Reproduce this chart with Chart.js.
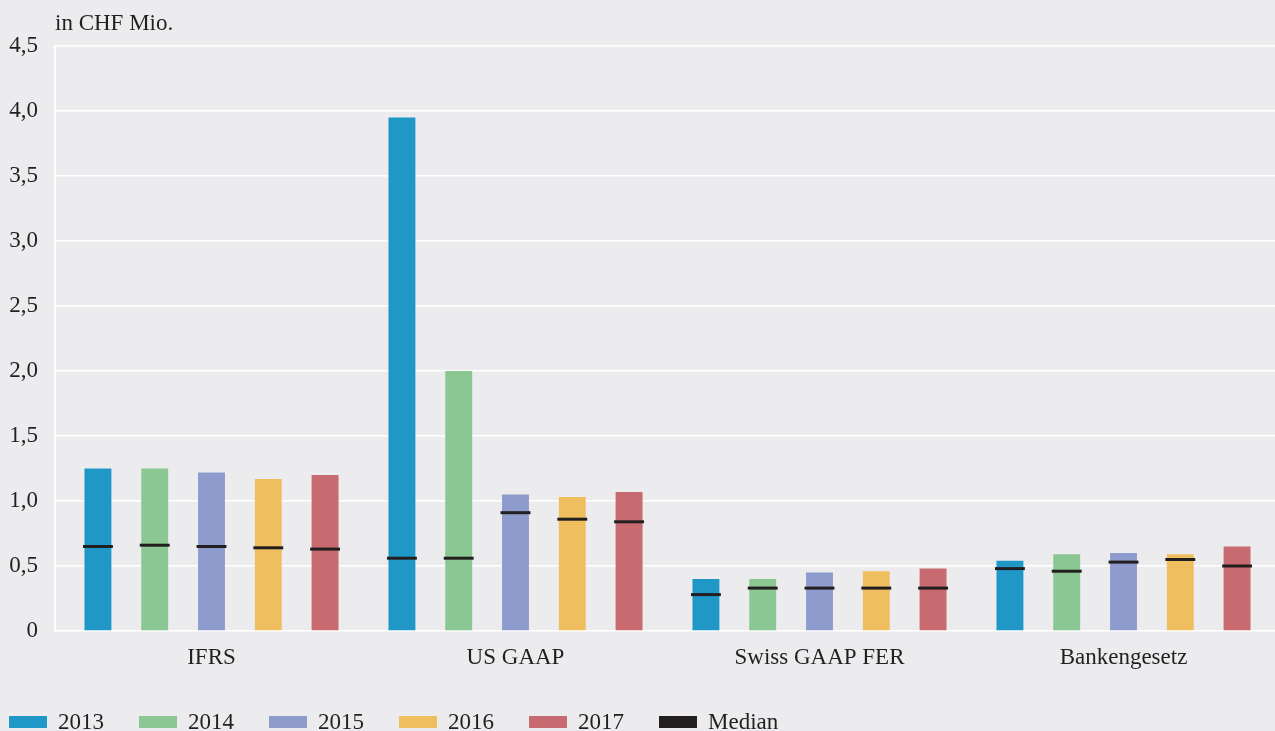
<!DOCTYPE html>
<html>
<head>
<meta charset="utf-8">
<script src="https://cdn.jsdelivr.net/npm/chart.js@4"></script>
<style>
  html, body { margin: 0; padding: 0; background: #ececee; }
  #wrap { position: relative; width: 1275px; height: 731px; overflow: hidden; }
  #legend { position: absolute; left: 9px; top: 709px; display: flex; font-family: "Liberation Serif", serif; font-size: 23px; color: #231f20; }
  #legend .item { width: 130px; display: flex; align-items: center; }
  #legend .box { width: 38px; height: 12px; margin-right: 11px; }
</style>
</head>
<body>
<div id="wrap">
  <canvas id="chart" width="1275" height="731"></canvas>
  <div id="legend"></div>
</div>
<script>
var categories = ['IFRS', 'US GAAP', 'Swiss GAAP FER', 'Bankengesetz'];
var years = ['2013', '2014', '2015', '2016', '2017'];

// Mittelwerte je Jahr
var values2013 = [1.25, 3.95, 0.40, 0.54];
var values2014 = [1.25, 2.00, 0.40, 0.59];
var values2015 = [1.22, 1.05, 0.45, 0.60];
var values2016 = [1.17, 1.03, 0.46, 0.59];
var values2017 = [1.20, 1.07, 0.48, 0.65];

// Median je Jahr
var median2013 = [0.65, 0.56, 0.28, 0.48];
var median2014 = [0.66, 0.56, 0.33, 0.46];
var median2015 = [0.65, 0.91, 0.33, 0.53];
var median2016 = [0.64, 0.86, 0.33, 0.55];
var median2017 = [0.63, 0.84, 0.33, 0.50];

var yTicks = [0, 0.5, 1.0, 1.5, 2.0, 2.5, 3.0, 3.5, 4.0, 4.5];

var colors = ['#1f98c8', '#8bc792', '#8e9bcd', '#efbe5f', '#c76b70'];
var medianColor = '#231f20';
var textColor = '#231f20';
var font = 'Liberation Serif';
var fontSize = 23;

var allValues = [values2013, values2014, values2015, values2016, values2017];
var allMedians = [median2013, median2014, median2015, median2016, median2017];

var datasets = years.map(function(y, i) {
  return {
    label: y,
    data: allValues[i],
    medians: allMedians[i],
    backgroundColor: colors[i],
    borderWidth: 0,
    categoryPercentage: 0.934,
    barPercentage: 0.474
  };
});

// Kategorien etwas vom linken Achsenrand abrücken
var shiftPlugin = {
  id: 'shiftCategories',
  afterLayout: function(chart) {
    var x = chart.scales.x;
    x.left += 4.5;
    x.right += 0.5;
    x.configure();
  }
};

// Medianstriche und Achsentitel
var medianPlugin = {
  id: 'medianLines',
  afterDatasetsDraw: function(chart) {
    var ctx = chart.ctx;
    var yScale = chart.scales.y;
    ctx.save();
    ctx.strokeStyle = medianColor;
    ctx.lineWidth = 3;
    chart.data.datasets.forEach(function(ds, i) {
      var meta = chart.getDatasetMeta(i);
      meta.data.forEach(function(bar, j) {
        var y = yScale.getPixelForValue(ds.medians[j]);
        var half = bar.width / 2 + 1.5;
        ctx.beginPath();
        ctx.moveTo(bar.x - half, y);
        ctx.lineTo(bar.x + half, y);
        ctx.stroke();
      });
    });
    ctx.fillStyle = textColor;
    ctx.font = fontSize + 'px "' + font + '"';
    ctx.textBaseline = 'alphabetic';
    ctx.textAlign = 'left';
    ctx.fillText('in CHF Mio.', chart.chartArea.left, 30);
    ctx.restore();
  }
};

new Chart(document.getElementById('chart'), {
  type: 'bar',
  data: { labels: categories, datasets: datasets },
  options: {
    responsive: false,
    animation: false,
    devicePixelRatio: 1,
    layout: { padding: { top: 46, right: 0, bottom: 0, left: 0 } },
    plugins: {
      legend: { display: false },
      tooltip: { enabled: false }
    },
    scales: {
      x: {
        grid: { display: false, drawTicks: false },
        border: { display: false },
        ticks: { color: textColor, font: { family: font, size: fontSize }, padding: 13 },
        afterFit: function(scale) { scale.height = 100; }
      },
      y: {
        min: 0,
        max: 4.5,
        afterBuildTicks: function(scale) {
          scale.ticks = yTicks.map(function(v) { return { value: v }; });
        },
        grid: { color: '#ffffff', lineWidth: 1.5, drawTicks: false },
        border: { color: '#ffffff', width: 2 },
        ticks: {
          color: textColor,
          font: { family: font, size: fontSize },
          padding: 17,
          callback: function(v) { return v === 0 ? '0' : v.toFixed(1).replace('.', ','); }
        },
        afterFit: function(scale) { scale.width = 55; }
      }
    }
  },
  plugins: [shiftPlugin, medianPlugin]
});

// Legende
var legend = document.getElementById('legend');
years.concat(['Median']).forEach(function(label, i) {
  var item = document.createElement('div');
  item.className = 'item';
  var box = document.createElement('span');
  box.className = 'box';
  box.style.background = i < years.length ? colors[i] : medianColor;
  var txt = document.createElement('span');
  txt.textContent = label;
  item.appendChild(box);
  item.appendChild(txt);
  legend.appendChild(item);
});
</script>
</body>
</html>
